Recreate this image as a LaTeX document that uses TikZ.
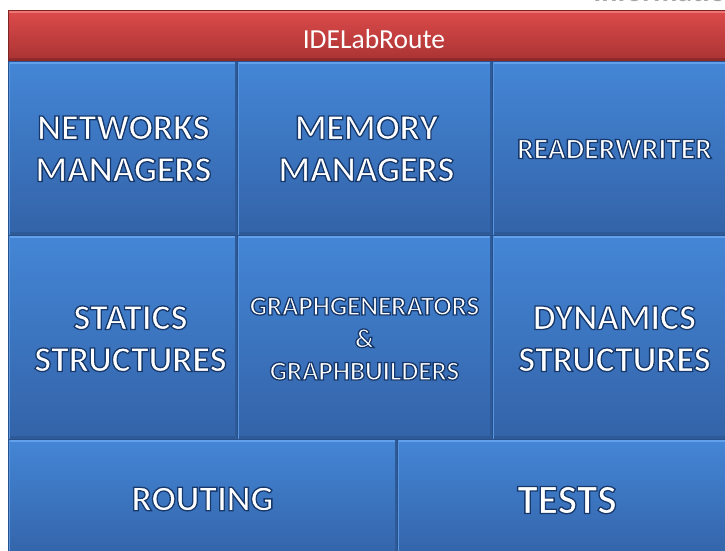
\documentclass[tikz,border=0pt]{standalone}
\usepackage{fontspec}
\setmainfont{Carlito}
\definecolor{blueTop}{HTML}{4486D6}
\definecolor{blueBot}{HTML}{3363A8}
\definecolor{blueHi}{HTML}{62A0EC}
\definecolor{blueLow}{HTML}{2E5A98}
\definecolor{tileline}{HTML}{28508A}
\definecolor{redTop}{HTML}{DE4B4B}
\definecolor{redBot}{HTML}{A93333}
\definecolor{redHi}{HTML}{EF7474}
\definecolor{redLow}{HTML}{8E2A2A}
\definecolor{redline}{HTML}{7E2626}

% white lettering stroked with a dark blue rim (fill, then stroke)
\newcommand\rimmed[1]{%
  \special{pdf:literal direct 2 Tr 1.3 w 0.09 0.22 0.42 RG}%
  #1%
  \special{pdf:literal direct 0 Tr 1 w}}
\newcommand\stack[1]{\begin{tabular}{@{}c@{}}#1\end{tabular}}

\begin{document}
\begin{tikzpicture}[x=1pt,y=-1pt,
  tile/.style={rectangle, draw=tileline, line width=0.8pt,
    top color=blueTop, bottom color=blueBot, inner sep=0pt, outer sep=0pt,
    path picture={
      \fill[blueHi] (path picture bounding box.north west)
        rectangle ([yshift=-3pt]path picture bounding box.north east);
      \fill[blueLow] (path picture bounding box.south west)
        rectangle ([yshift=3pt]path picture bounding box.south east);
      \fill[blueHi!60!blueTop] (path picture bounding box.north west)
        rectangle ([xshift=2pt]path picture bounding box.south west);
      \fill[blueLow] ([xshift=-2pt]path picture bounding box.north east)
        rectangle (path picture bounding box.south east);
    }},
  headbar/.style={rectangle, draw=redline, line width=0.8pt,
    top color=redTop, bottom color=redBot, inner sep=0pt, outer sep=0pt,
    path picture={
      \fill[redHi] (path picture bounding box.north west)
        rectangle ([yshift=-3pt]path picture bounding box.north east);
      \fill[redLow] (path picture bounding box.south west)
        rectangle ([yshift=3pt]path picture bounding box.south east);
    }},
  label/.style={inner sep=0pt, text=white},
  big/.style={font=\fontsize{36}{42}\selectfont\bfseries},
  mid/.style={font=\fontsize{29.5}{35}\selectfont\bfseries},
  small/.style={font=\fontsize{27}{32.5}\selectfont\bfseries}
]
\useasboundingbox (0,0) rectangle (725,550);
\fill[white] (0,0) rectangle (725,550);

% heading text running off the top edge
\node[anchor=base east, inner sep=0pt, text=black!35,
  font=\fontsize{30}{36}\selectfont\bfseries] (caption) at (742,1.5) {Information};

% title bar
\node[headbar, minimum width=730pt, minimum height=51pt] (bar) at (373,35.5) {};
\node[label, font=\fontsize{27.5}{33}\selectfont] (barl) at (374,39) {IDELabRoute};

% first row
\node[tile, minimum width=229pt, minimum height=174pt] (net) at (122.5,148) {};
\node[tile, minimum width=255pt, minimum height=174pt] (mem) at (364.5,148) {};
\node[tile, minimum width=245pt, minimum height=174pt] (rw) at (614.5,148) {};
% second row
\node[tile, minimum width=229pt, minimum height=204pt] (stat) at (122.5,337) {};
\node[tile, minimum width=255pt, minimum height=204pt] (gen) at (364.5,337) {};
\node[tile, minimum width=245pt, minimum height=204pt] (dyn) at (614.5,337) {};
% third row
\node[tile, minimum width=389pt, minimum height=120pt] (route) at (202.5,499) {};
\node[tile, minimum width=340pt, minimum height=120pt] (tests) at (567,499) {};

% labels
\node[label, big] (netl) at ([xshift=1pt,yshift=-4pt]net.center) {\rimmed{\stack{NETWORKS\\MANAGERS}}};
\node[label, big] (meml) at ([xshift=2pt,yshift=-4pt]mem.center) {\rimmed{\stack{MEMORY\\MANAGERS}}};
\node[label, mid] (rwl) at ([yshift=-1pt]rw.center) {\rimmed{READERWRITER}};
\node[label, big] (statl) at ([xshift=8pt,yshift=-5pt]stat.center) {\rimmed{\stack{STATICS\\STRUCTURES}}};
\node[label, small] (genl) at ([yshift=-4pt]gen.center) {\rimmed{\stack{GRAPHGENERATORS\\\&\\GRAPHBUILDERS}}};
\node[label, big] (dynl) at ([yshift=-5pt]dyn.center) {\rimmed{\stack{DYNAMICS\\STRUCTURES}}};
\node[label, big] (routel) at (route.center) {\rimmed{ROUTING}};
\node[label, font=\fontsize{41.5}{48}\selectfont\bfseries] (testsl) at ([yshift=-1pt]tests.center) {\rimmed{TESTS}};
\end{tikzpicture}
\end{document}
